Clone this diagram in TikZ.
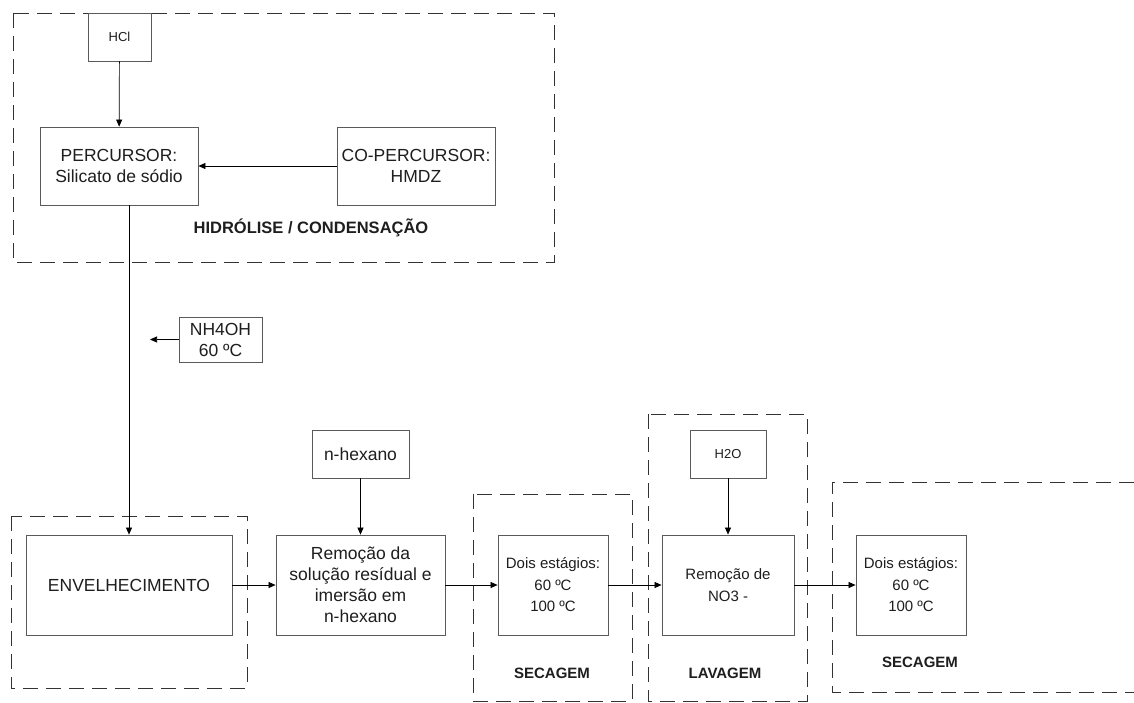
\documentclass[tikz,border=0pt]{standalone}
\usepackage{fontspec}
\setmainfont{Liberation Sans}
\usetikzlibrary{arrows.meta}
\definecolor{boxgray}{HTML}{5A5A5A}
\definecolor{txt}{HTML}{1E1E1E}
\begin{document}
\begin{tikzpicture}[x=1pt,y=-1pt,
  proc/.style={draw=boxgray, line width=0.8pt, inner sep=0pt, align=center, text=txt,
               font=\fontsize{17.5}{21}\selectfont},
  procs/.style={proc, font=\fontsize{15}{21.5}\selectfont},
  grp/.style={draw=black!80, line width=0.9pt, dash pattern=on 15pt off 8pt},
  lbl/.style={text=txt, inner sep=0pt, font=\fontsize{15}{18}\selectfont\bfseries},
  conn/.style={draw=black, line width=0.7pt, -{Triangle[length=7pt,width=6pt]}}
]
\useasboundingbox (0,0) rectangle (1134,702);
\fill[white] (0,0) rectangle (1134,702);

% group frames
\draw[grp] (13,13) rectangle (554,262);
\draw[grp] (11,516) rectangle (247,688);
\draw[grp] (473,494) rectangle (632,701);
\draw[grp] (648,414) rectangle (807,701);
\draw[grp] (1134,482) -- (832,482) -- (832,692) -- (1134,692);

% nodes
\node[proc, minimum width=63pt, minimum height=48pt, font=\fontsize{13}{15}\selectfont] (hcl) at (119.5,37) {HCl};
\node[proc, minimum width=158pt, minimum height=78pt] (perc) at (119,166) {PERCURSOR:\\Silicato de sódio};
\node[proc, minimum width=158pt, minimum height=78pt] (coperc) at (416,166) {CO-PERCURSOR:\\HMDZ};
\node[lbl, font=\fontsize{16.5}{18}\selectfont\bfseries] (lhid) at (311,228) {HIDRÓLISE / CONDENSAÇÃO};

\node[proc, minimum width=83pt, minimum height=45pt] (nh4) at (220.5,339.5) {NH4OH\\60 ºC};
\coordinate (nh4end) at (150,339.5);

\node[proc, minimum width=206pt, minimum height=100pt] (env) at (129,585) {ENVELHECIMENTO};
\node[proc, minimum width=97pt, minimum height=48pt] (nhex) at (360.5,454) {n-hexano};
\node[proc, minimum width=169pt, minimum height=100pt] (rem) at (360.5,585) {Remoção da\\solução resídual e\\imersão em\\n-hexano};

\node[procs, minimum width=110pt, minimum height=100pt] (dois1) at (553,585) {Dois estágios:\\60 ºC\\100 ºC};
\node[lbl] (lsec1) at (552,673) {SECAGEM};

\node[proc, minimum width=76pt, minimum height=48pt, font=\fontsize{13}{15}\selectfont] (h2o) at (728,454) {H2O};
\node[procs, minimum width=132pt, minimum height=100pt] (rem2) at (728,585) {Remoção de\\NO3 -};
\node[lbl] (llav) at (725,673) {LAVAGEM};

\node[procs, minimum width=110pt, minimum height=100pt] (dois2) at (911,585) {Dois estágios:\\60 ºC\\100 ºC};
\node[lbl] (lsec2) at (920,662) {SECAGEM};

% connectors
\draw[conn] (hcl) -- (perc);
\draw[conn] (coperc) -- (perc);
\draw[conn] (env.north |- perc.south) -- (env.north);
\draw[conn] (nh4) -- (nh4end);
\draw[conn] (nhex) -- (rem);
\draw[conn] (env) -- (rem);
\draw[conn] (rem) -- (dois1);
\draw[conn] (dois1) -- (rem2);
\draw[conn] (h2o) -- (rem2);
\draw[conn] (rem2) -- (dois2);
\end{tikzpicture}
\end{document}
